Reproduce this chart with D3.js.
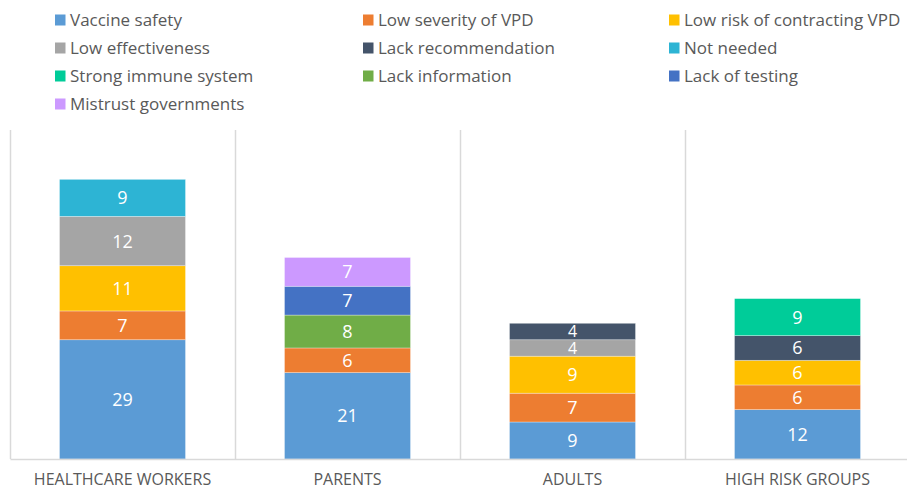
<!DOCTYPE html>
<html>
<head>
<meta charset="utf-8">
<script src="https://cdn.jsdelivr.net/npm/d3@7"></script>
<style>
  body { margin: 0; background: #fff; }
  text { font-family: "Open Sans", "Noto Sans", sans-serif; }
</style>
</head>
<body>
<div id="chart"></div>
<script>
const width = 907;
const height = 492;
const margin = { top: 130, right: -3, bottom: 33, left: 10 };

const groups = ["HEALTHCARE WORKERS", "PARENTS", "ADULTS", "HIGH RISK GROUPS"];
const seriesNames = ["Vaccine safety", "Low severity of VPD", "Low risk of contracting VPD",
  "Low effectiveness", "Lack recommendation", "Not needed",
  "Strong immune system", "Lack information", "Lack of testing", "Mistrust governments"];
const seriesColors = ["#5B9BD5", "#ED7D31", "#FFC000", "#A5A5A5", "#44546A", "#2DB4D4",
  "#00CC99", "#70AD47", "#4472C4", "#CC99FF"];

// one list per series, in the order of groups
const vaccineSafety   = [29, 21, 9, 12];
const lowSeverity     = [7, 6, 7, 6];
const lowRisk         = [11, 0, 9, 6];
const lowEffective    = [12, 0, 4, 0];
const lackRecommend   = [0, 0, 4, 6];
const notNeeded       = [9, 0, 0, 0];
const strongImmune    = [0, 0, 0, 9];
const lackInformation = [0, 8, 0, 0];
const lackTesting     = [0, 7, 0, 0];
const mistrustGov     = [0, 7, 0, 0];

const seriesValues = [vaccineSafety, lowSeverity, lowRisk, lowEffective, lackRecommend,
  notNeeded, strongImmune, lackInformation, lackTesting, mistrustGov];

const rows = groups.map((g, i) => {
  const row = { group: g };
  seriesNames.forEach((s, j) => { row[s] = seriesValues[j][i]; });
  return row;
});

const stacked = d3.stack().keys(seriesNames)(rows);

const svg = d3.select("#chart").append("svg")
  .attr("width", width)
  .attr("height", height);

const xScale = d3.scaleBand()
  .domain(groups)
  .range([margin.left, width - margin.right]);

const yScale = d3.scaleLinear()
  .domain([0, 80])
  .range([height - margin.bottom, margin.top]);

const color = d3.scaleOrdinal().domain(seriesNames).range(seriesColors);

// vertical gridlines at category boundaries
const bounds = groups.map(g => xScale(g)).concat([xScale(groups[groups.length - 1]) + xScale.bandwidth()]);
svg.append("g")
  .selectAll("line")
  .data(bounds)
  .join("line")
  .attr("x1", d => d + 0.5)
  .attr("x2", d => d + 0.5)
  .attr("y1", yScale(80))
  .attr("y2", yScale(0))
  .attr("stroke", "#D9D9D9")
  .attr("stroke-width", 1.5);

const barW = xScale.bandwidth() * 0.56;
const barOffset = (xScale.bandwidth() - barW) / 2;

const layer = svg.append("g")
  .selectAll("g")
  .data(stacked)
  .join("g")
  .attr("fill", d => color(d.key));

layer.selectAll("rect")
  .data(d => d.filter(p => p[1] - p[0] > 0))
  .join("rect")
  .attr("x", d => xScale(d.data.group) + barOffset)
  .attr("width", barW)
  .attr("y", d => yScale(d[1]))
  .attr("height", d => yScale(d[0]) - yScale(d[1]))
  .attr("stroke", "rgba(255,255,255,0.45)")
  .attr("stroke-width", 0.7);

layer.selectAll("text")
  .data(d => d.filter(p => p[1] - p[0] > 0))
  .join("text")
  .attr("x", d => xScale(d.data.group) + xScale.bandwidth() / 2)
  .attr("y", d => (yScale(d[0]) + yScale(d[1])) / 2)
  .attr("dy", "0.36em")
  .attr("text-anchor", "middle")
  .attr("fill", "#fff")
  .attr("font-size", d => (yScale(d[0]) - yScale(d[1])) < 20 ? 16 : 18)
  .text(d => d[1] - d[0]);

// x axis
const xAxis = d3.axisBottom(xScale).tickSize(0).tickPadding(15);
const xAxisGroup = svg.append("g")
  .attr("transform", `translate(0, ${yScale(0)})`)
  .call(xAxis);
xAxisGroup.select(".domain").attr("stroke", "#D9D9D9").attr("stroke-width", 1.5);
xAxisGroup.selectAll("text")
  .attr("fill", "#595959")
  .attr("font-size", 16)
  .style("font-family", "'Open Sans', sans-serif");

// legend
const legendCols = [55, 363, 669];
const legendRows = [20, 48, 76, 104];
const legend = svg.append("g")
  .selectAll("g")
  .data(seriesNames)
  .join("g")
  .attr("transform", (d, i) => `translate(${legendCols[i % 3]}, ${legendRows[Math.floor(i / 3)]})`);

legend.append("rect")
  .attr("x", 0)
  .attr("y", -5.5)
  .attr("width", 10.5)
  .attr("height", 11)
  .attr("fill", d => color(d));

legend.append("text")
  .attr("x", 15)
  .attr("y", 0)
  .attr("dy", "0.36em")
  .attr("fill", "#595959")
  .attr("font-size", 17)
  .text(d => d);
</script>
</body>
</html>
